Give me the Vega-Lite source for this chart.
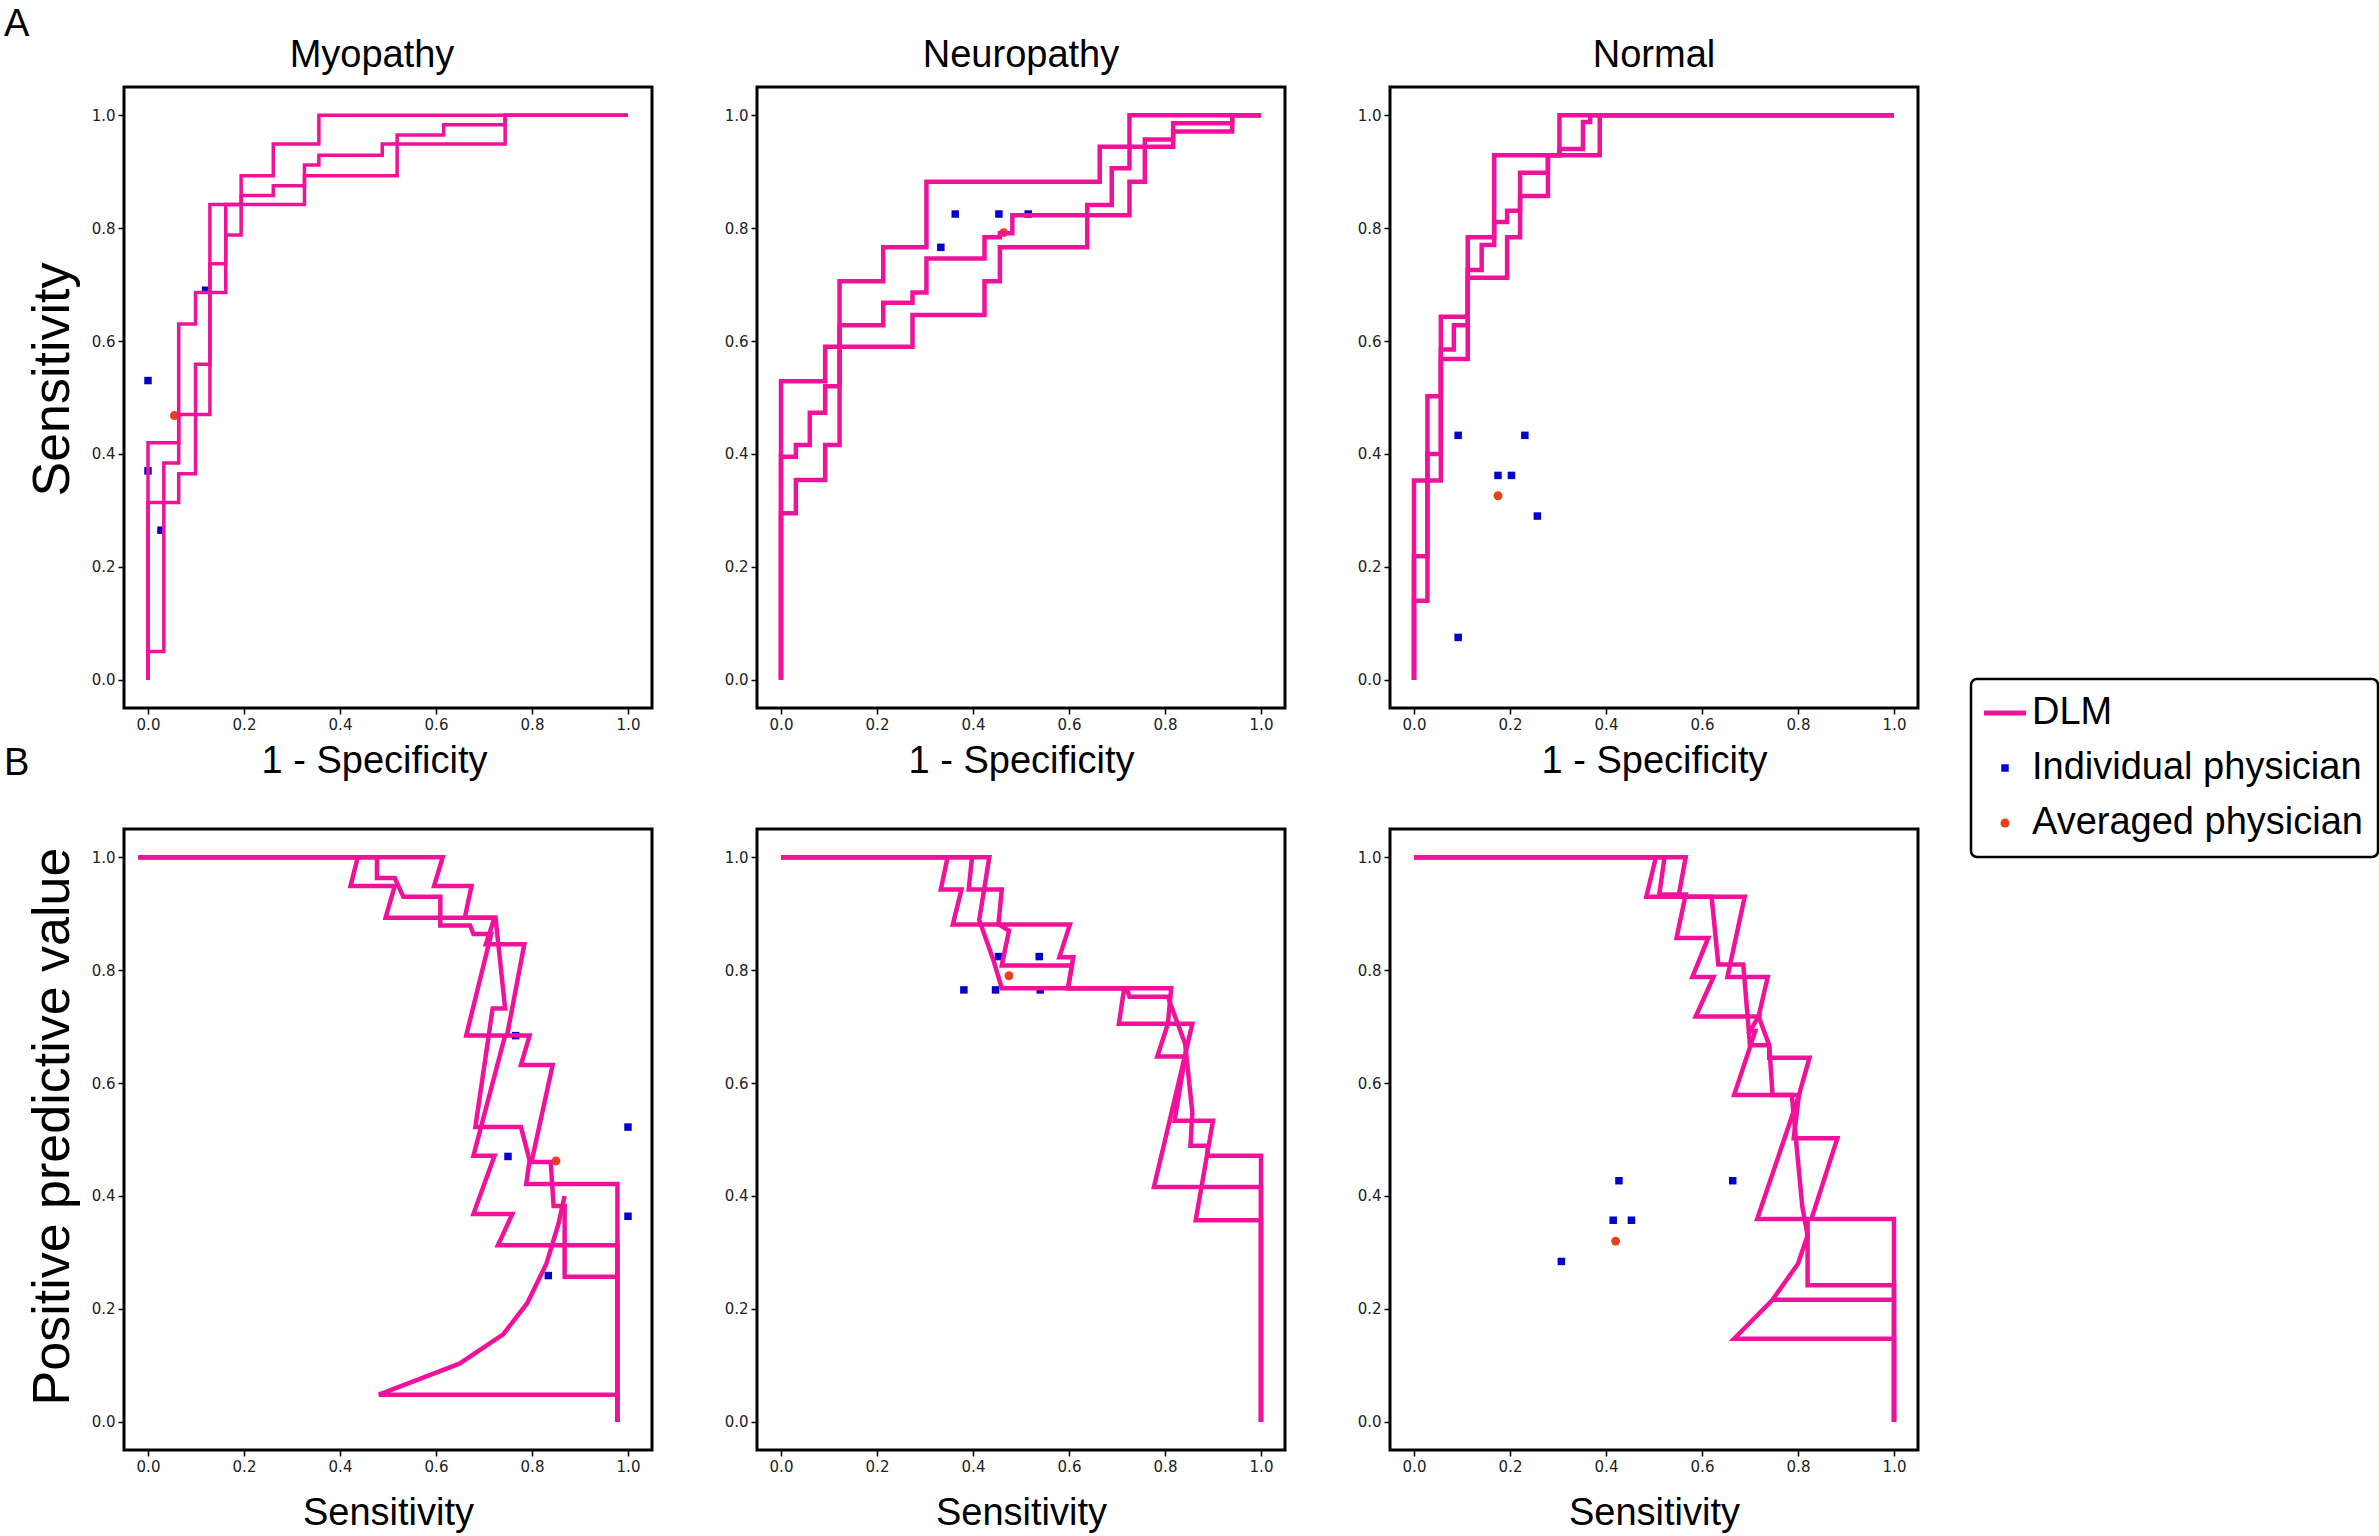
{
"$schema": "https://vega.github.io/schema/vega-lite/v6.json",
"background": "white",
"padding": {"left": 2, "top": 5, "right": 2, "bottom": 2},
"config": {
 "font": "Liberation Sans",
 "view": {"stroke": "black", "strokeWidth": 3},
 "axis": {"grid": false, "domain": false, "ticks": true, "tickColor": "black", "tickSize": 6, "tickWidth": 1.5, "labelFont": "DejaVu Sans", "labelFontSize": 15, "labelColor": "#222222", "labelPadding": 3, "titleFont": "Liberation Sans", "titleFontWeight": "normal", "titleColor": "black"},
 "title": {"font": "Liberation Sans", "fontSize": 38, "fontWeight": "normal", "color": "black"},
 "legend": {"orient": "none", "legendX": 1847, "legendY": 592, "strokeColor": "black", "strokeWidth": 2.5, "cornerRadius": 6, "padding": 15, "labelFontSize": 38, "labelColor": "black", "labelFont": "Liberation Sans", "labelLimit": 0, "rowPadding": 17, "labelOffset": 8, "fillColor": "white"}
},
"datasets": {
"dlm": [
{"p":"AMyo","s":"DLM","c":1,"i":0,"x":0,"y":0},{"p":"AMyo","s":"DLM","c":1,"i":1,"x":0,"y":0.42},{"p":"AMyo","s":"DLM","c":1,"i":2,"x":0.064,"y":0.42},{"p":"AMyo","s":"DLM","c":1,"i":3,"x":0.064,"y":0.63},{"p":"AMyo","s":"DLM","c":1,"i":4,"x":0.099,"y":0.63},{"p":"AMyo","s":"DLM","c":1,"i":5,"x":0.099,"y":0.686},{"p":"AMyo","s":"DLM","c":1,"i":6,"x":0.129,"y":0.686},{"p":"AMyo","s":"DLM","c":1,"i":7,"x":0.129,"y":0.842},{"p":"AMyo","s":"DLM","c":1,"i":8,"x":0.194,"y":0.842},{"p":"AMyo","s":"DLM","c":1,"i":9,"x":0.194,"y":0.893},{"p":"AMyo","s":"DLM","c":1,"i":10,"x":0.261,"y":0.893},{"p":"AMyo","s":"DLM","c":1,"i":11,"x":0.261,"y":0.949},{"p":"AMyo","s":"DLM","c":1,"i":12,"x":0.356,"y":0.949},{"p":"AMyo","s":"DLM","c":1,"i":13,"x":0.356,"y":1},{"p":"AMyo","s":"DLM","c":1,"i":14,"x":1,"y":1},
{"p":"AMyo","s":"DLM","c":2,"i":0,"x":0,"y":0},{"p":"AMyo","s":"DLM","c":2,"i":1,"x":0,"y":0.314},{"p":"AMyo","s":"DLM","c":2,"i":2,"x":0.064,"y":0.314},{"p":"AMyo","s":"DLM","c":2,"i":3,"x":0.064,"y":0.365},{"p":"AMyo","s":"DLM","c":2,"i":4,"x":0.099,"y":0.365},{"p":"AMyo","s":"DLM","c":2,"i":5,"x":0.099,"y":0.559},{"p":"AMyo","s":"DLM","c":2,"i":6,"x":0.129,"y":0.559},{"p":"AMyo","s":"DLM","c":2,"i":7,"x":0.129,"y":0.737},{"p":"AMyo","s":"DLM","c":2,"i":8,"x":0.162,"y":0.737},{"p":"AMyo","s":"DLM","c":2,"i":9,"x":0.162,"y":0.842},{"p":"AMyo","s":"DLM","c":2,"i":10,"x":0.194,"y":0.842},{"p":"AMyo","s":"DLM","c":2,"i":11,"x":0.194,"y":0.858},{"p":"AMyo","s":"DLM","c":2,"i":12,"x":0.261,"y":0.858},{"p":"AMyo","s":"DLM","c":2,"i":13,"x":0.261,"y":0.875},{"p":"AMyo","s":"DLM","c":2,"i":14,"x":0.326,"y":0.875},{"p":"AMyo","s":"DLM","c":2,"i":15,"x":0.326,"y":0.912},{"p":"AMyo","s":"DLM","c":2,"i":16,"x":0.356,"y":0.912},{"p":"AMyo","s":"DLM","c":2,"i":17,"x":0.356,"y":0.929},{"p":"AMyo","s":"DLM","c":2,"i":18,"x":0.488,"y":0.929},{"p":"AMyo","s":"DLM","c":2,"i":19,"x":0.488,"y":0.949},{"p":"AMyo","s":"DLM","c":2,"i":20,"x":0.744,"y":0.949},{"p":"AMyo","s":"DLM","c":2,"i":21,"x":0.744,"y":1},{"p":"AMyo","s":"DLM","c":2,"i":22,"x":1,"y":1},
{"p":"AMyo","s":"DLM","c":3,"i":0,"x":0,"y":0},{"p":"AMyo","s":"DLM","c":3,"i":1,"x":0,"y":0.05},{"p":"AMyo","s":"DLM","c":3,"i":2,"x":0.033,"y":0.05},{"p":"AMyo","s":"DLM","c":3,"i":3,"x":0.033,"y":0.384},{"p":"AMyo","s":"DLM","c":3,"i":4,"x":0.064,"y":0.384},{"p":"AMyo","s":"DLM","c":3,"i":5,"x":0.064,"y":0.47},{"p":"AMyo","s":"DLM","c":3,"i":6,"x":0.129,"y":0.47},{"p":"AMyo","s":"DLM","c":3,"i":7,"x":0.129,"y":0.686},{"p":"AMyo","s":"DLM","c":3,"i":8,"x":0.162,"y":0.686},{"p":"AMyo","s":"DLM","c":3,"i":9,"x":0.162,"y":0.788},{"p":"AMyo","s":"DLM","c":3,"i":10,"x":0.194,"y":0.788},{"p":"AMyo","s":"DLM","c":3,"i":11,"x":0.194,"y":0.842},{"p":"AMyo","s":"DLM","c":3,"i":12,"x":0.326,"y":0.842},{"p":"AMyo","s":"DLM","c":3,"i":13,"x":0.326,"y":0.893},{"p":"AMyo","s":"DLM","c":3,"i":14,"x":0.519,"y":0.893},{"p":"AMyo","s":"DLM","c":3,"i":15,"x":0.519,"y":0.965},{"p":"AMyo","s":"DLM","c":3,"i":16,"x":0.616,"y":0.965},{"p":"AMyo","s":"DLM","c":3,"i":17,"x":0.616,"y":0.983},{"p":"AMyo","s":"DLM","c":3,"i":18,"x":0.744,"y":0.983},{"p":"AMyo","s":"DLM","c":3,"i":19,"x":0.744,"y":1},{"p":"AMyo","s":"DLM","c":3,"i":20,"x":1,"y":1},
{"p":"ANeu","s":"DLM","c":1,"i":0,"x":0,"y":0},{"p":"ANeu","s":"DLM","c":1,"i":1,"x":0,"y":0.529},{"p":"ANeu","s":"DLM","c":1,"i":2,"x":0.092,"y":0.529},{"p":"ANeu","s":"DLM","c":1,"i":3,"x":0.092,"y":0.59},{"p":"ANeu","s":"DLM","c":1,"i":4,"x":0.122,"y":0.59},{"p":"ANeu","s":"DLM","c":1,"i":5,"x":0.122,"y":0.706},{"p":"ANeu","s":"DLM","c":1,"i":6,"x":0.213,"y":0.706},{"p":"ANeu","s":"DLM","c":1,"i":7,"x":0.213,"y":0.766},{"p":"ANeu","s":"DLM","c":1,"i":8,"x":0.303,"y":0.766},{"p":"ANeu","s":"DLM","c":1,"i":9,"x":0.303,"y":0.882},{"p":"ANeu","s":"DLM","c":1,"i":10,"x":0.664,"y":0.882},{"p":"ANeu","s":"DLM","c":1,"i":11,"x":0.664,"y":0.944},{"p":"ANeu","s":"DLM","c":1,"i":12,"x":0.726,"y":0.944},{"p":"ANeu","s":"DLM","c":1,"i":13,"x":0.726,"y":1},{"p":"ANeu","s":"DLM","c":1,"i":14,"x":1,"y":1},
{"p":"ANeu","s":"DLM","c":2,"i":0,"x":0,"y":0},{"p":"ANeu","s":"DLM","c":2,"i":1,"x":0,"y":0.395},{"p":"ANeu","s":"DLM","c":2,"i":2,"x":0.031,"y":0.395},{"p":"ANeu","s":"DLM","c":2,"i":3,"x":0.031,"y":0.416},{"p":"ANeu","s":"DLM","c":2,"i":4,"x":0.06,"y":0.416},{"p":"ANeu","s":"DLM","c":2,"i":5,"x":0.06,"y":0.473},{"p":"ANeu","s":"DLM","c":2,"i":6,"x":0.092,"y":0.473},{"p":"ANeu","s":"DLM","c":2,"i":7,"x":0.092,"y":0.52},{"p":"ANeu","s":"DLM","c":2,"i":8,"x":0.122,"y":0.52},{"p":"ANeu","s":"DLM","c":2,"i":9,"x":0.122,"y":0.628},{"p":"ANeu","s":"DLM","c":2,"i":10,"x":0.213,"y":0.628},{"p":"ANeu","s":"DLM","c":2,"i":11,"x":0.213,"y":0.668},{"p":"ANeu","s":"DLM","c":2,"i":12,"x":0.274,"y":0.668},{"p":"ANeu","s":"DLM","c":2,"i":13,"x":0.274,"y":0.686},{"p":"ANeu","s":"DLM","c":2,"i":14,"x":0.303,"y":0.686},{"p":"ANeu","s":"DLM","c":2,"i":15,"x":0.303,"y":0.746},{"p":"ANeu","s":"DLM","c":2,"i":16,"x":0.424,"y":0.746},{"p":"ANeu","s":"DLM","c":2,"i":17,"x":0.424,"y":0.784},{"p":"ANeu","s":"DLM","c":2,"i":18,"x":0.456,"y":0.784},{"p":"ANeu","s":"DLM","c":2,"i":19,"x":0.456,"y":0.791},{"p":"ANeu","s":"DLM","c":2,"i":20,"x":0.482,"y":0.791},{"p":"ANeu","s":"DLM","c":2,"i":21,"x":0.482,"y":0.823},{"p":"ANeu","s":"DLM","c":2,"i":22,"x":0.726,"y":0.823},{"p":"ANeu","s":"DLM","c":2,"i":23,"x":0.726,"y":0.882},{"p":"ANeu","s":"DLM","c":2,"i":24,"x":0.758,"y":0.882},{"p":"ANeu","s":"DLM","c":2,"i":25,"x":0.758,"y":0.957},{"p":"ANeu","s":"DLM","c":2,"i":26,"x":0.817,"y":0.957},{"p":"ANeu","s":"DLM","c":2,"i":27,"x":0.817,"y":0.986},{"p":"ANeu","s":"DLM","c":2,"i":28,"x":0.94,"y":0.986},{"p":"ANeu","s":"DLM","c":2,"i":29,"x":0.94,"y":1},{"p":"ANeu","s":"DLM","c":2,"i":30,"x":1,"y":1},
{"p":"ANeu","s":"DLM","c":3,"i":0,"x":0,"y":0},{"p":"ANeu","s":"DLM","c":3,"i":1,"x":0,"y":0.295},{"p":"ANeu","s":"DLM","c":3,"i":2,"x":0.031,"y":0.295},{"p":"ANeu","s":"DLM","c":3,"i":3,"x":0.031,"y":0.354},{"p":"ANeu","s":"DLM","c":3,"i":4,"x":0.092,"y":0.354},{"p":"ANeu","s":"DLM","c":3,"i":5,"x":0.092,"y":0.416},{"p":"ANeu","s":"DLM","c":3,"i":6,"x":0.122,"y":0.416},{"p":"ANeu","s":"DLM","c":3,"i":7,"x":0.122,"y":0.59},{"p":"ANeu","s":"DLM","c":3,"i":8,"x":0.274,"y":0.59},{"p":"ANeu","s":"DLM","c":3,"i":9,"x":0.274,"y":0.646},{"p":"ANeu","s":"DLM","c":3,"i":10,"x":0.424,"y":0.646},{"p":"ANeu","s":"DLM","c":3,"i":11,"x":0.424,"y":0.706},{"p":"ANeu","s":"DLM","c":3,"i":12,"x":0.456,"y":0.706},{"p":"ANeu","s":"DLM","c":3,"i":13,"x":0.456,"y":0.766},{"p":"ANeu","s":"DLM","c":3,"i":14,"x":0.638,"y":0.766},{"p":"ANeu","s":"DLM","c":3,"i":15,"x":0.638,"y":0.841},{"p":"ANeu","s":"DLM","c":3,"i":16,"x":0.689,"y":0.841},{"p":"ANeu","s":"DLM","c":3,"i":17,"x":0.689,"y":0.906},{"p":"ANeu","s":"DLM","c":3,"i":18,"x":0.726,"y":0.906},{"p":"ANeu","s":"DLM","c":3,"i":19,"x":0.726,"y":0.944},{"p":"ANeu","s":"DLM","c":3,"i":20,"x":0.817,"y":0.944},{"p":"ANeu","s":"DLM","c":3,"i":21,"x":0.817,"y":0.971},{"p":"ANeu","s":"DLM","c":3,"i":22,"x":0.94,"y":0.971},{"p":"ANeu","s":"DLM","c":3,"i":23,"x":0.94,"y":1},{"p":"ANeu","s":"DLM","c":3,"i":24,"x":1,"y":1},
{"p":"ANor","s":"DLM","c":1,"i":0,"x":0,"y":0},{"p":"ANor","s":"DLM","c":1,"i":1,"x":0,"y":0.353},{"p":"ANor","s":"DLM","c":1,"i":2,"x":0.028,"y":0.353},{"p":"ANor","s":"DLM","c":1,"i":3,"x":0.028,"y":0.502},{"p":"ANor","s":"DLM","c":1,"i":4,"x":0.056,"y":0.502},{"p":"ANor","s":"DLM","c":1,"i":5,"x":0.056,"y":0.643},{"p":"ANor","s":"DLM","c":1,"i":6,"x":0.112,"y":0.643},{"p":"ANor","s":"DLM","c":1,"i":7,"x":0.112,"y":0.784},{"p":"ANor","s":"DLM","c":1,"i":8,"x":0.167,"y":0.784},{"p":"ANor","s":"DLM","c":1,"i":9,"x":0.167,"y":0.929},{"p":"ANor","s":"DLM","c":1,"i":10,"x":0.303,"y":0.929},{"p":"ANor","s":"DLM","c":1,"i":11,"x":0.303,"y":1},{"p":"ANor","s":"DLM","c":1,"i":12,"x":1,"y":1},
{"p":"ANor","s":"DLM","c":2,"i":0,"x":0,"y":0},{"p":"ANor","s":"DLM","c":2,"i":1,"x":0,"y":0.219},{"p":"ANor","s":"DLM","c":2,"i":2,"x":0.028,"y":0.219},{"p":"ANor","s":"DLM","c":2,"i":3,"x":0.028,"y":0.4},{"p":"ANor","s":"DLM","c":2,"i":4,"x":0.056,"y":0.4},{"p":"ANor","s":"DLM","c":2,"i":5,"x":0.056,"y":0.585},{"p":"ANor","s":"DLM","c":2,"i":6,"x":0.083,"y":0.585},{"p":"ANor","s":"DLM","c":2,"i":7,"x":0.083,"y":0.628},{"p":"ANor","s":"DLM","c":2,"i":8,"x":0.112,"y":0.628},{"p":"ANor","s":"DLM","c":2,"i":9,"x":0.112,"y":0.726},{"p":"ANor","s":"DLM","c":2,"i":10,"x":0.141,"y":0.726},{"p":"ANor","s":"DLM","c":2,"i":11,"x":0.141,"y":0.77},{"p":"ANor","s":"DLM","c":2,"i":12,"x":0.167,"y":0.77},{"p":"ANor","s":"DLM","c":2,"i":13,"x":0.167,"y":0.811},{"p":"ANor","s":"DLM","c":2,"i":14,"x":0.194,"y":0.811},{"p":"ANor","s":"DLM","c":2,"i":15,"x":0.194,"y":0.831},{"p":"ANor","s":"DLM","c":2,"i":16,"x":0.221,"y":0.831},{"p":"ANor","s":"DLM","c":2,"i":17,"x":0.221,"y":0.898},{"p":"ANor","s":"DLM","c":2,"i":18,"x":0.279,"y":0.898},{"p":"ANor","s":"DLM","c":2,"i":19,"x":0.279,"y":0.929},{"p":"ANor","s":"DLM","c":2,"i":20,"x":0.303,"y":0.929},{"p":"ANor","s":"DLM","c":2,"i":21,"x":0.303,"y":0.94},{"p":"ANor","s":"DLM","c":2,"i":22,"x":0.352,"y":0.94},{"p":"ANor","s":"DLM","c":2,"i":23,"x":0.352,"y":0.988},{"p":"ANor","s":"DLM","c":2,"i":24,"x":0.367,"y":0.988},{"p":"ANor","s":"DLM","c":2,"i":25,"x":0.367,"y":1},{"p":"ANor","s":"DLM","c":2,"i":26,"x":1,"y":1},
{"p":"ANor","s":"DLM","c":3,"i":0,"x":0,"y":0},{"p":"ANor","s":"DLM","c":3,"i":1,"x":0,"y":0.14},{"p":"ANor","s":"DLM","c":3,"i":2,"x":0.028,"y":0.14},{"p":"ANor","s":"DLM","c":3,"i":3,"x":0.028,"y":0.353},{"p":"ANor","s":"DLM","c":3,"i":4,"x":0.056,"y":0.353},{"p":"ANor","s":"DLM","c":3,"i":5,"x":0.056,"y":0.568},{"p":"ANor","s":"DLM","c":3,"i":6,"x":0.112,"y":0.568},{"p":"ANor","s":"DLM","c":3,"i":7,"x":0.112,"y":0.712},{"p":"ANor","s":"DLM","c":3,"i":8,"x":0.194,"y":0.712},{"p":"ANor","s":"DLM","c":3,"i":9,"x":0.194,"y":0.784},{"p":"ANor","s":"DLM","c":3,"i":10,"x":0.221,"y":0.784},{"p":"ANor","s":"DLM","c":3,"i":11,"x":0.221,"y":0.857},{"p":"ANor","s":"DLM","c":3,"i":12,"x":0.279,"y":0.857},{"p":"ANor","s":"DLM","c":3,"i":13,"x":0.279,"y":0.929},{"p":"ANor","s":"DLM","c":3,"i":14,"x":0.387,"y":0.929},{"p":"ANor","s":"DLM","c":3,"i":15,"x":0.387,"y":1},{"p":"ANor","s":"DLM","c":3,"i":16,"x":1,"y":1},
{"p":"BMyo","s":"DLM","c":1,"i":0,"x":-0.02,"y":1},{"p":"BMyo","s":"DLM","c":1,"i":1,"x":0.437,"y":1},{"p":"BMyo","s":"DLM","c":1,"i":2,"x":0.422,"y":0.949},{"p":"BMyo","s":"DLM","c":1,"i":3,"x":0.514,"y":0.949},{"p":"BMyo","s":"DLM","c":1,"i":4,"x":0.495,"y":0.893},{"p":"BMyo","s":"DLM","c":1,"i":5,"x":0.722,"y":0.893},{"p":"BMyo","s":"DLM","c":1,"i":6,"x":0.704,"y":0.846},{"p":"BMyo","s":"DLM","c":1,"i":7,"x":0.784,"y":0.846},{"p":"BMyo","s":"DLM","c":1,"i":8,"x":0.748,"y":0.684},{"p":"BMyo","s":"DLM","c":1,"i":9,"x":0.795,"y":0.684},{"p":"BMyo","s":"DLM","c":1,"i":10,"x":0.777,"y":0.632},{"p":"BMyo","s":"DLM","c":1,"i":11,"x":0.843,"y":0.632},{"p":"BMyo","s":"DLM","c":1,"i":12,"x":0.799,"y":0.46},{"p":"BMyo","s":"DLM","c":1,"i":13,"x":0.839,"y":0.46},{"p":"BMyo","s":"DLM","c":1,"i":14,"x":0.845,"y":0.382},{"p":"BMyo","s":"DLM","c":1,"i":15,"x":0.868,"y":0.382},{"p":"BMyo","s":"DLM","c":1,"i":16,"x":0.868,"y":0.257},{"p":"BMyo","s":"DLM","c":1,"i":17,"x":0.978,"y":0.257},{"p":"BMyo","s":"DLM","c":1,"i":18,"x":0.978,"y":0},
{"p":"BMyo","s":"DLM","c":2,"i":0,"x":-0.02,"y":1},{"p":"BMyo","s":"DLM","c":2,"i":1,"x":0.477,"y":1},{"p":"BMyo","s":"DLM","c":2,"i":2,"x":0.477,"y":0.963},{"p":"BMyo","s":"DLM","c":2,"i":3,"x":0.514,"y":0.963},{"p":"BMyo","s":"DLM","c":2,"i":4,"x":0.532,"y":0.93},{"p":"BMyo","s":"DLM","c":2,"i":5,"x":0.609,"y":0.93},{"p":"BMyo","s":"DLM","c":2,"i":6,"x":0.609,"y":0.879},{"p":"BMyo","s":"DLM","c":2,"i":7,"x":0.671,"y":0.879},{"p":"BMyo","s":"DLM","c":2,"i":8,"x":0.678,"y":0.864},{"p":"BMyo","s":"DLM","c":2,"i":9,"x":0.715,"y":0.864},{"p":"BMyo","s":"DLM","c":2,"i":10,"x":0.663,"y":0.684},{"p":"BMyo","s":"DLM","c":2,"i":11,"x":0.744,"y":0.684},{"p":"BMyo","s":"DLM","c":2,"i":12,"x":0.678,"y":0.471},{"p":"BMyo","s":"DLM","c":2,"i":13,"x":0.722,"y":0.471},{"p":"BMyo","s":"DLM","c":2,"i":14,"x":0.678,"y":0.368},{"p":"BMyo","s":"DLM","c":2,"i":15,"x":0.759,"y":0.368},{"p":"BMyo","s":"DLM","c":2,"i":16,"x":0.729,"y":0.3125},{"p":"BMyo","s":"DLM","c":2,"i":17,"x":0.978,"y":0.3125},{"p":"BMyo","s":"DLM","c":2,"i":18,"x":0.978,"y":0},
{"p":"BMyo","s":"DLM","c":3,"i":0,"x":-0.02,"y":1},{"p":"BMyo","s":"DLM","c":3,"i":1,"x":0.614,"y":1},{"p":"BMyo","s":"DLM","c":3,"i":2,"x":0.596,"y":0.949},{"p":"BMyo","s":"DLM","c":3,"i":3,"x":0.674,"y":0.949},{"p":"BMyo","s":"DLM","c":3,"i":4,"x":0.66,"y":0.893},{"p":"BMyo","s":"DLM","c":3,"i":5,"x":0.724,"y":0.893},{"p":"BMyo","s":"DLM","c":3,"i":6,"x":0.744,"y":0.732},{"p":"BMyo","s":"DLM","c":3,"i":7,"x":0.718,"y":0.732},{"p":"BMyo","s":"DLM","c":3,"i":8,"x":0.682,"y":0.522},{"p":"BMyo","s":"DLM","c":3,"i":9,"x":0.777,"y":0.522},{"p":"BMyo","s":"DLM","c":3,"i":10,"x":0.795,"y":0.463},{"p":"BMyo","s":"DLM","c":3,"i":11,"x":0.788,"y":0.421},{"p":"BMyo","s":"DLM","c":3,"i":12,"x":0.978,"y":0.421},{"p":"BMyo","s":"DLM","c":3,"i":13,"x":0.978,"y":0},
{"p":"BMyo","s":"DLM","c":4,"i":0,"x":0.868,"y":0.4},{"p":"BMyo","s":"DLM","c":4,"i":1,"x":0.855,"y":0.35},{"p":"BMyo","s":"DLM","c":4,"i":2,"x":0.83,"y":0.28},{"p":"BMyo","s":"DLM","c":4,"i":3,"x":0.79,"y":0.21},{"p":"BMyo","s":"DLM","c":4,"i":4,"x":0.74,"y":0.155},{"p":"BMyo","s":"DLM","c":4,"i":5,"x":0.649,"y":0.103},{"p":"BMyo","s":"DLM","c":4,"i":6,"x":0.481,"y":0.048},{"p":"BMyo","s":"DLM","c":4,"i":7,"x":0.978,"y":0.048},
{"p":"BNeu","s":"DLM","c":1,"i":0,"x":0,"y":1},{"p":"BNeu","s":"DLM","c":1,"i":1,"x":0.347,"y":1},{"p":"BNeu","s":"DLM","c":1,"i":2,"x":0.333,"y":0.943},{"p":"BNeu","s":"DLM","c":1,"i":3,"x":0.376,"y":0.943},{"p":"BNeu","s":"DLM","c":1,"i":4,"x":0.358,"y":0.881},{"p":"BNeu","s":"DLM","c":1,"i":5,"x":0.602,"y":0.881},{"p":"BNeu","s":"DLM","c":1,"i":6,"x":0.58,"y":0.823},{"p":"BNeu","s":"DLM","c":1,"i":7,"x":0.609,"y":0.823},{"p":"BNeu","s":"DLM","c":1,"i":8,"x":0.598,"y":0.768},{"p":"BNeu","s":"DLM","c":1,"i":9,"x":0.813,"y":0.768},{"p":"BNeu","s":"DLM","c":1,"i":10,"x":0.806,"y":0.705},{"p":"BNeu","s":"DLM","c":1,"i":11,"x":0.784,"y":0.647},{"p":"BNeu","s":"DLM","c":1,"i":12,"x":0.842,"y":0.647},{"p":"BNeu","s":"DLM","c":1,"i":13,"x":0.82,"y":0.533},{"p":"BNeu","s":"DLM","c":1,"i":14,"x":0.9,"y":0.533},{"p":"BNeu","s":"DLM","c":1,"i":15,"x":0.864,"y":0.357},{"p":"BNeu","s":"DLM","c":1,"i":16,"x":1,"y":0.357},{"p":"BNeu","s":"DLM","c":1,"i":17,"x":1,"y":0},
{"p":"BNeu","s":"DLM","c":2,"i":0,"x":0,"y":1},{"p":"BNeu","s":"DLM","c":2,"i":1,"x":0.398,"y":1},{"p":"BNeu","s":"DLM","c":2,"i":2,"x":0.391,"y":0.943},{"p":"BNeu","s":"DLM","c":2,"i":3,"x":0.46,"y":0.943},{"p":"BNeu","s":"DLM","c":2,"i":4,"x":0.453,"y":0.881},{"p":"BNeu","s":"DLM","c":2,"i":5,"x":0.475,"y":0.87},{"p":"BNeu","s":"DLM","c":2,"i":6,"x":0.46,"y":0.808},{"p":"BNeu","s":"DLM","c":2,"i":7,"x":0.606,"y":0.808},{"p":"BNeu","s":"DLM","c":2,"i":8,"x":0.598,"y":0.768},{"p":"BNeu","s":"DLM","c":2,"i":9,"x":0.715,"y":0.768},{"p":"BNeu","s":"DLM","c":2,"i":10,"x":0.704,"y":0.705},{"p":"BNeu","s":"DLM","c":2,"i":11,"x":0.857,"y":0.705},{"p":"BNeu","s":"DLM","c":2,"i":12,"x":0.828,"y":0.599},{"p":"BNeu","s":"DLM","c":2,"i":13,"x":0.777,"y":0.416},{"p":"BNeu","s":"DLM","c":2,"i":14,"x":1,"y":0.416},{"p":"BNeu","s":"DLM","c":2,"i":15,"x":1,"y":0},
{"p":"BNeu","s":"DLM","c":3,"i":0,"x":0,"y":1},{"p":"BNeu","s":"DLM","c":3,"i":1,"x":0.434,"y":1},{"p":"BNeu","s":"DLM","c":3,"i":2,"x":0.413,"y":0.889},{"p":"BNeu","s":"DLM","c":3,"i":3,"x":0.442,"y":0.819},{"p":"BNeu","s":"DLM","c":3,"i":4,"x":0.46,"y":0.768},{"p":"BNeu","s":"DLM","c":3,"i":5,"x":0.72,"y":0.768},{"p":"BNeu","s":"DLM","c":3,"i":6,"x":0.726,"y":0.753},{"p":"BNeu","s":"DLM","c":3,"i":7,"x":0.806,"y":0.753},{"p":"BNeu","s":"DLM","c":3,"i":8,"x":0.842,"y":0.669},{"p":"BNeu","s":"DLM","c":3,"i":9,"x":0.857,"y":0.548},{"p":"BNeu","s":"DLM","c":3,"i":10,"x":0.853,"y":0.489},{"p":"BNeu","s":"DLM","c":3,"i":11,"x":0.889,"y":0.489},{"p":"BNeu","s":"DLM","c":3,"i":12,"x":0.889,"y":0.471},{"p":"BNeu","s":"DLM","c":3,"i":13,"x":1,"y":0.471},{"p":"BNeu","s":"DLM","c":3,"i":14,"x":1,"y":0},
{"p":"BNor","s":"DLM","c":1,"i":0,"x":0,"y":1},{"p":"BNor","s":"DLM","c":1,"i":1,"x":0.504,"y":1},{"p":"BNor","s":"DLM","c":1,"i":2,"x":0.484,"y":0.93},{"p":"BNor","s":"DLM","c":1,"i":3,"x":0.689,"y":0.93},{"p":"BNor","s":"DLM","c":1,"i":4,"x":0.653,"y":0.788},{"p":"BNor","s":"DLM","c":1,"i":5,"x":0.737,"y":0.788},{"p":"BNor","s":"DLM","c":1,"i":6,"x":0.718,"y":0.718},{"p":"BNor","s":"DLM","c":1,"i":7,"x":0.74,"y":0.667},{"p":"BNor","s":"DLM","c":1,"i":8,"x":0.74,"y":0.645},{"p":"BNor","s":"DLM","c":1,"i":9,"x":0.824,"y":0.645},{"p":"BNor","s":"DLM","c":1,"i":10,"x":0.802,"y":0.579},{"p":"BNor","s":"DLM","c":1,"i":11,"x":0.791,"y":0.502},{"p":"BNor","s":"DLM","c":1,"i":12,"x":0.882,"y":0.502},{"p":"BNor","s":"DLM","c":1,"i":13,"x":0.828,"y":0.359},{"p":"BNor","s":"DLM","c":1,"i":14,"x":1,"y":0.359},{"p":"BNor","s":"DLM","c":1,"i":15,"x":1,"y":0},
{"p":"BNor","s":"DLM","c":2,"i":0,"x":0,"y":1},{"p":"BNor","s":"DLM","c":2,"i":1,"x":0.522,"y":1},{"p":"BNor","s":"DLM","c":2,"i":2,"x":0.511,"y":0.934},{"p":"BNor","s":"DLM","c":2,"i":3,"x":0.566,"y":0.934},{"p":"BNor","s":"DLM","c":2,"i":4,"x":0.547,"y":0.857},{"p":"BNor","s":"DLM","c":2,"i":5,"x":0.613,"y":0.857},{"p":"BNor","s":"DLM","c":2,"i":6,"x":0.58,"y":0.788},{"p":"BNor","s":"DLM","c":2,"i":7,"x":0.624,"y":0.788},{"p":"BNor","s":"DLM","c":2,"i":8,"x":0.587,"y":0.718},{"p":"BNor","s":"DLM","c":2,"i":9,"x":0.718,"y":0.718},{"p":"BNor","s":"DLM","c":2,"i":10,"x":0.7,"y":0.692},{"p":"BNor","s":"DLM","c":2,"i":11,"x":0.711,"y":0.692},{"p":"BNor","s":"DLM","c":2,"i":12,"x":0.667,"y":0.579},{"p":"BNor","s":"DLM","c":2,"i":13,"x":0.802,"y":0.579},{"p":"BNor","s":"DLM","c":2,"i":14,"x":0.791,"y":0.55},{"p":"BNor","s":"DLM","c":2,"i":15,"x":0.715,"y":0.359},{"p":"BNor","s":"DLM","c":2,"i":16,"x":0.82,"y":0.359},{"p":"BNor","s":"DLM","c":2,"i":17,"x":0.82,"y":0.242},{"p":"BNor","s":"DLM","c":2,"i":18,"x":1,"y":0.242},{"p":"BNor","s":"DLM","c":2,"i":19,"x":1,"y":0},
{"p":"BNor","s":"DLM","c":3,"i":0,"x":0,"y":1},{"p":"BNor","s":"DLM","c":3,"i":1,"x":0.566,"y":1},{"p":"BNor","s":"DLM","c":3,"i":2,"x":0.551,"y":0.93},{"p":"BNor","s":"DLM","c":3,"i":3,"x":0.62,"y":0.93},{"p":"BNor","s":"DLM","c":3,"i":4,"x":0.634,"y":0.81},{"p":"BNor","s":"DLM","c":3,"i":5,"x":0.686,"y":0.81},{"p":"BNor","s":"DLM","c":3,"i":6,"x":0.7,"y":0.667},{"p":"BNor","s":"DLM","c":3,"i":7,"x":0.74,"y":0.667},{"p":"BNor","s":"DLM","c":3,"i":8,"x":0.747,"y":0.579},{"p":"BNor","s":"DLM","c":3,"i":9,"x":0.787,"y":0.579},{"p":"BNor","s":"DLM","c":3,"i":10,"x":0.809,"y":0.381},{"p":"BNor","s":"DLM","c":3,"i":11,"x":0.82,"y":0.33},{"p":"BNor","s":"DLM","c":3,"i":12,"x":0.8,"y":0.28},{"p":"BNor","s":"DLM","c":3,"i":13,"x":0.747,"y":0.216},{"p":"BNor","s":"DLM","c":3,"i":14,"x":0.667,"y":0.147},{"p":"BNor","s":"DLM","c":3,"i":15,"x":1,"y":0.147},{"p":"BNor","s":"DLM","c":3,"i":16,"x":1,"y":0},
{"p":"BNor","s":"DLM","c":4,"i":0,"x":0.747,"y":0.216},{"p":"BNor","s":"DLM","c":4,"i":1,"x":1,"y":0.216}
],
"phys": [
{"p":"AMyo","s":"Individual physician","x":0,"y":0.53},{"p":"AMyo","s":"Individual physician","x":0,"y":0.37},{"p":"AMyo","s":"Individual physician","x":0.12,"y":0.69},{"p":"AMyo","s":"Individual physician","x":0.027,"y":0.265},{"p":"AMyo","s":"Averaged physician","x":0.055,"y":0.468},
{"p":"ANeu","s":"Individual physician","x":0.363,"y":0.825},{"p":"ANeu","s":"Individual physician","x":0.454,"y":0.825},{"p":"ANeu","s":"Individual physician","x":0.333,"y":0.766},{"p":"ANeu","s":"Individual physician","x":0.515,"y":0.825},{"p":"ANeu","s":"Averaged physician","x":0.464,"y":0.792},
{"p":"ANor","s":"Individual physician","x":0.092,"y":0.433},{"p":"ANor","s":"Individual physician","x":0.231,"y":0.433},{"p":"ANor","s":"Individual physician","x":0.175,"y":0.362},{"p":"ANor","s":"Individual physician","x":0.203,"y":0.362},{"p":"ANor","s":"Individual physician","x":0.257,"y":0.29},{"p":"ANor","s":"Individual physician","x":0.092,"y":0.075},{"p":"ANor","s":"Averaged physician","x":0.175,"y":0.326},
{"p":"BMyo","s":"Individual physician","x":1,"y":0.522},{"p":"BMyo","s":"Individual physician","x":1,"y":0.364},{"p":"BMyo","s":"Individual physician","x":0.75,"y":0.47},{"p":"BMyo","s":"Individual physician","x":0.834,"y":0.259},{"p":"BMyo","s":"Individual physician","x":0.766,"y":0.684},{"p":"BMyo","s":"Averaged physician","x":0.85,"y":0.462},
{"p":"BNeu","s":"Individual physician","x":0.453,"y":0.824},{"p":"BNeu","s":"Individual physician","x":0.538,"y":0.824},{"p":"BNeu","s":"Individual physician","x":0.381,"y":0.765},{"p":"BNeu","s":"Individual physician","x":0.447,"y":0.765},{"p":"BNeu","s":"Individual physician","x":0.54,"y":0.765},{"p":"BNeu","s":"Averaged physician","x":0.475,"y":0.79},
{"p":"BNor","s":"Individual physician","x":0.427,"y":0.427},{"p":"BNor","s":"Individual physician","x":0.664,"y":0.427},{"p":"BNor","s":"Individual physician","x":0.415,"y":0.357},{"p":"BNor","s":"Individual physician","x":0.453,"y":0.357},{"p":"BNor","s":"Individual physician","x":0.307,"y":0.284},{"p":"BNor","s":"Averaged physician","x":0.42,"y":0.32}
]
},
"title": {"text": "A", "anchor": "start", "frame": "group", "dx": -120, "fontSize": 38, "offset": -8},
"columns": 3,
"spacing": {"row": 121, "column": 105},
"bounds": "flush",
"concat": [
 {"width": 528, "height": 621, "title": {"text": "Myopathy", "fontSize": 38, "offset": -18, "dx": -16, "baseline": "alphabetic"},
  "encoding": {"x": {"field": "x", "type": "quantitative", "scale": {"domain": [-0.05, 1.05], "nice": false, "zero": false}, "axis": {"title": "1 - Specificity", "values": [0, 0.2, 0.4, 0.6, 0.8, 1], "format": ".1f", "titleFontSize": 38, "titlePadding": 10, "titleX": 250}},
   "y": {"field": "y", "type": "quantitative", "scale": {"domain": [-0.05, 1.05], "nice": false, "zero": false}, "axis": {"title": "Sensitivity", "values": [0, 0.2, 0.4, 0.6, 0.8, 1], "format": ".1f", "titleFontSize": 52, "titlePadding": 12, "titleY": 292}}},
  "layer": [
   {"data": {"name": "phys"}, "transform": [{"filter": "datum.p === 'AMyo'"}], "mark": {"type": "point", "filled": true, "opacity": 1},
    "encoding": {"color": {"field": "s", "type": "nominal", "scale": {"domain": ["DLM", "Individual physician", "Averaged physician"], "range": ["#F0129A", "#0000CC", "#E8401A"]}, "legend": {"title": null, "encode": {"symbols": {"update": {"stroke": {"scale": "color", "field": "value"}, "strokeWidth": {"signal": "datum.value === 'DLM' ? 5 : 0"}}}}}},
     "shape": {"field": "s", "type": "nominal", "scale": {"domain": ["DLM", "Individual physician", "Averaged physician"], "range": ["stroke", "square", "circle"]}, "legend": {"title": null, "encode": {"symbols": {"update": {"stroke": {"scale": "color", "field": "value"}, "strokeWidth": {"signal": "datum.value === 'DLM' ? 5 : 0"}}}}}},
     "size": {"field": "s", "type": "nominal", "scale": {"type": "ordinal", "domain": ["DLM", "Individual physician", "Averaged physician"], "range": [1764, 56, 80]}, "legend": {"title": null, "encode": {"symbols": {"update": {"stroke": {"scale": "color", "field": "value"}, "strokeWidth": {"signal": "datum.value === 'DLM' ? 5 : 0"}}}}}}}},
   {"data": {"name": "dlm"}, "transform": [{"filter": "datum.p === 'AMyo'"}], "mark": {"type": "line", "strokeWidth": 3.5},
    "encoding": {"color": {"field": "s", "type": "nominal", "scale": {"domain": ["DLM", "Individual physician", "Averaged physician"], "range": ["#F0129A", "#0000CC", "#E8401A"]}, "legend": {"title": null, "encode": {"symbols": {"update": {"stroke": {"scale": "color", "field": "value"}, "strokeWidth": {"signal": "datum.value === 'DLM' ? 5 : 0"}}}}}}, "detail": {"field": "c"}, "order": {"field": "i"}}}
  ]},
 {"width": 528, "height": 621, "title": {"text": "Neuropathy", "fontSize": 38, "offset": -18, "baseline": "alphabetic"},
  "encoding": {"x": {"field": "x", "type": "quantitative", "scale": {"domain": [-0.05, 1.05], "nice": false, "zero": false}, "axis": {"title": "1 - Specificity", "values": [0, 0.2, 0.4, 0.6, 0.8, 1], "format": ".1f", "titleFontSize": 38, "titlePadding": 10}},
   "y": {"field": "y", "type": "quantitative", "scale": {"domain": [-0.05, 1.05], "nice": false, "zero": false}, "axis": {"title": null, "values": [0, 0.2, 0.4, 0.6, 0.8, 1], "format": ".1f"}}},
  "layer": [
   {"data": {"name": "phys"}, "transform": [{"filter": "datum.p === 'ANeu'"}], "mark": {"type": "point", "filled": true, "opacity": 1},
    "encoding": {"color": {"field": "s", "type": "nominal", "scale": {"domain": ["DLM", "Individual physician", "Averaged physician"], "range": ["#F0129A", "#0000CC", "#E8401A"]}, "legend": {"title": null, "encode": {"symbols": {"update": {"stroke": {"scale": "color", "field": "value"}, "strokeWidth": {"signal": "datum.value === 'DLM' ? 5 : 0"}}}}}},
     "shape": {"field": "s", "type": "nominal", "scale": {"domain": ["DLM", "Individual physician", "Averaged physician"], "range": ["stroke", "square", "circle"]}, "legend": {"title": null, "encode": {"symbols": {"update": {"stroke": {"scale": "color", "field": "value"}, "strokeWidth": {"signal": "datum.value === 'DLM' ? 5 : 0"}}}}}},
     "size": {"field": "s", "type": "nominal", "scale": {"type": "ordinal", "domain": ["DLM", "Individual physician", "Averaged physician"], "range": [1764, 56, 80]}, "legend": {"title": null, "encode": {"symbols": {"update": {"stroke": {"scale": "color", "field": "value"}, "strokeWidth": {"signal": "datum.value === 'DLM' ? 5 : 0"}}}}}}}},
   {"data": {"name": "dlm"}, "transform": [{"filter": "datum.p === 'ANeu'"}], "mark": {"type": "line", "strokeWidth": 4.5},
    "encoding": {"color": {"field": "s", "type": "nominal", "scale": {"domain": ["DLM", "Individual physician", "Averaged physician"], "range": ["#F0129A", "#0000CC", "#E8401A"]}, "legend": {"title": null, "encode": {"symbols": {"update": {"stroke": {"scale": "color", "field": "value"}, "strokeWidth": {"signal": "datum.value === 'DLM' ? 5 : 0"}}}}}}, "detail": {"field": "c"}, "order": {"field": "i"}}}
  ]},
 {"width": 528, "height": 621, "title": {"text": "Normal", "fontSize": 38, "offset": -18, "baseline": "alphabetic"},
  "encoding": {"x": {"field": "x", "type": "quantitative", "scale": {"domain": [-0.05, 1.05], "nice": false, "zero": false}, "axis": {"title": "1 - Specificity", "values": [0, 0.2, 0.4, 0.6, 0.8, 1], "format": ".1f", "titleFontSize": 38, "titlePadding": 10}},
   "y": {"field": "y", "type": "quantitative", "scale": {"domain": [-0.05, 1.05], "nice": false, "zero": false}, "axis": {"title": null, "values": [0, 0.2, 0.4, 0.6, 0.8, 1], "format": ".1f"}}},
  "layer": [
   {"data": {"name": "phys"}, "transform": [{"filter": "datum.p === 'ANor'"}], "mark": {"type": "point", "filled": true, "opacity": 1},
    "encoding": {"color": {"field": "s", "type": "nominal", "scale": {"domain": ["DLM", "Individual physician", "Averaged physician"], "range": ["#F0129A", "#0000CC", "#E8401A"]}, "legend": {"title": null, "encode": {"symbols": {"update": {"stroke": {"scale": "color", "field": "value"}, "strokeWidth": {"signal": "datum.value === 'DLM' ? 5 : 0"}}}}}},
     "shape": {"field": "s", "type": "nominal", "scale": {"domain": ["DLM", "Individual physician", "Averaged physician"], "range": ["stroke", "square", "circle"]}, "legend": {"title": null, "encode": {"symbols": {"update": {"stroke": {"scale": "color", "field": "value"}, "strokeWidth": {"signal": "datum.value === 'DLM' ? 5 : 0"}}}}}},
     "size": {"field": "s", "type": "nominal", "scale": {"type": "ordinal", "domain": ["DLM", "Individual physician", "Averaged physician"], "range": [1764, 56, 80]}, "legend": {"title": null, "encode": {"symbols": {"update": {"stroke": {"scale": "color", "field": "value"}, "strokeWidth": {"signal": "datum.value === 'DLM' ? 5 : 0"}}}}}}}},
   {"data": {"name": "dlm"}, "transform": [{"filter": "datum.p === 'ANor'"}], "mark": {"type": "line", "strokeWidth": 4.5},
    "encoding": {"color": {"field": "s", "type": "nominal", "scale": {"domain": ["DLM", "Individual physician", "Averaged physician"], "range": ["#F0129A", "#0000CC", "#E8401A"]}, "legend": {"title": null, "encode": {"symbols": {"update": {"stroke": {"scale": "color", "field": "value"}, "strokeWidth": {"signal": "datum.value === 'DLM' ? 5 : 0"}}}}}}, "detail": {"field": "c"}, "order": {"field": "i"}}}
  ]},
 {"width": 528, "height": 621, "title": {"text": "B", "anchor": "start", "frame": "group", "dx": -120, "fontSize": 38, "offset": 16, "baseline": "alphabetic"},
  "encoding": {"x": {"field": "x", "type": "quantitative", "scale": {"domain": [-0.05, 1.05], "nice": false, "zero": false}, "axis": {"title": "Sensitivity", "values": [0, 0.2, 0.4, 0.6, 0.8, 1], "format": ".1f", "titleFontSize": 38, "titlePadding": 20}},
   "y": {"field": "y", "type": "quantitative", "scale": {"domain": [-0.05, 1.05], "nice": false, "zero": false}, "axis": {"title": "Positive predictive value", "values": [0, 0.2, 0.4, 0.6, 0.8, 1], "format": ".1f", "titleFontSize": 52, "titlePadding": 12, "titleY": 297}}},
  "layer": [
   {"data": {"name": "phys"}, "transform": [{"filter": "datum.p === 'BMyo'"}], "mark": {"type": "point", "filled": true, "opacity": 1},
    "encoding": {"color": {"field": "s", "type": "nominal", "scale": {"domain": ["DLM", "Individual physician", "Averaged physician"], "range": ["#F0129A", "#0000CC", "#E8401A"]}, "legend": {"title": null, "encode": {"symbols": {"update": {"stroke": {"scale": "color", "field": "value"}, "strokeWidth": {"signal": "datum.value === 'DLM' ? 5 : 0"}}}}}},
     "shape": {"field": "s", "type": "nominal", "scale": {"domain": ["DLM", "Individual physician", "Averaged physician"], "range": ["stroke", "square", "circle"]}, "legend": {"title": null, "encode": {"symbols": {"update": {"stroke": {"scale": "color", "field": "value"}, "strokeWidth": {"signal": "datum.value === 'DLM' ? 5 : 0"}}}}}},
     "size": {"field": "s", "type": "nominal", "scale": {"type": "ordinal", "domain": ["DLM", "Individual physician", "Averaged physician"], "range": [1764, 56, 80]}, "legend": {"title": null, "encode": {"symbols": {"update": {"stroke": {"scale": "color", "field": "value"}, "strokeWidth": {"signal": "datum.value === 'DLM' ? 5 : 0"}}}}}}}},
   {"data": {"name": "dlm"}, "transform": [{"filter": "datum.p === 'BMyo'"}], "mark": {"type": "line", "strokeWidth": 4.5},
    "encoding": {"color": {"field": "s", "type": "nominal", "scale": {"domain": ["DLM", "Individual physician", "Averaged physician"], "range": ["#F0129A", "#0000CC", "#E8401A"]}, "legend": {"title": null, "encode": {"symbols": {"update": {"stroke": {"scale": "color", "field": "value"}, "strokeWidth": {"signal": "datum.value === 'DLM' ? 5 : 0"}}}}}}, "detail": {"field": "c"}, "order": {"field": "i"}}}
  ]},
 {"width": 528, "height": 621,
  "encoding": {"x": {"field": "x", "type": "quantitative", "scale": {"domain": [-0.05, 1.05], "nice": false, "zero": false}, "axis": {"title": "Sensitivity", "values": [0, 0.2, 0.4, 0.6, 0.8, 1], "format": ".1f", "titleFontSize": 38, "titlePadding": 20}},
   "y": {"field": "y", "type": "quantitative", "scale": {"domain": [-0.05, 1.05], "nice": false, "zero": false}, "axis": {"title": null, "values": [0, 0.2, 0.4, 0.6, 0.8, 1], "format": ".1f"}}},
  "layer": [
   {"data": {"name": "phys"}, "transform": [{"filter": "datum.p === 'BNeu'"}], "mark": {"type": "point", "filled": true, "opacity": 1},
    "encoding": {"color": {"field": "s", "type": "nominal", "scale": {"domain": ["DLM", "Individual physician", "Averaged physician"], "range": ["#F0129A", "#0000CC", "#E8401A"]}, "legend": {"title": null, "encode": {"symbols": {"update": {"stroke": {"scale": "color", "field": "value"}, "strokeWidth": {"signal": "datum.value === 'DLM' ? 5 : 0"}}}}}},
     "shape": {"field": "s", "type": "nominal", "scale": {"domain": ["DLM", "Individual physician", "Averaged physician"], "range": ["stroke", "square", "circle"]}, "legend": {"title": null, "encode": {"symbols": {"update": {"stroke": {"scale": "color", "field": "value"}, "strokeWidth": {"signal": "datum.value === 'DLM' ? 5 : 0"}}}}}},
     "size": {"field": "s", "type": "nominal", "scale": {"type": "ordinal", "domain": ["DLM", "Individual physician", "Averaged physician"], "range": [1764, 56, 80]}, "legend": {"title": null, "encode": {"symbols": {"update": {"stroke": {"scale": "color", "field": "value"}, "strokeWidth": {"signal": "datum.value === 'DLM' ? 5 : 0"}}}}}}}},
   {"data": {"name": "dlm"}, "transform": [{"filter": "datum.p === 'BNeu'"}], "mark": {"type": "line", "strokeWidth": 4.5},
    "encoding": {"color": {"field": "s", "type": "nominal", "scale": {"domain": ["DLM", "Individual physician", "Averaged physician"], "range": ["#F0129A", "#0000CC", "#E8401A"]}, "legend": {"title": null, "encode": {"symbols": {"update": {"stroke": {"scale": "color", "field": "value"}, "strokeWidth": {"signal": "datum.value === 'DLM' ? 5 : 0"}}}}}}, "detail": {"field": "c"}, "order": {"field": "i"}}}
  ]},
 {"width": 528, "height": 621,
  "encoding": {"x": {"field": "x", "type": "quantitative", "scale": {"domain": [-0.05, 1.05], "nice": false, "zero": false}, "axis": {"title": "Sensitivity", "values": [0, 0.2, 0.4, 0.6, 0.8, 1], "format": ".1f", "titleFontSize": 38, "titlePadding": 20}},
   "y": {"field": "y", "type": "quantitative", "scale": {"domain": [-0.05, 1.05], "nice": false, "zero": false}, "axis": {"title": null, "values": [0, 0.2, 0.4, 0.6, 0.8, 1], "format": ".1f"}}},
  "layer": [
   {"data": {"name": "phys"}, "transform": [{"filter": "datum.p === 'BNor'"}], "mark": {"type": "point", "filled": true, "opacity": 1},
    "encoding": {"color": {"field": "s", "type": "nominal", "scale": {"domain": ["DLM", "Individual physician", "Averaged physician"], "range": ["#F0129A", "#0000CC", "#E8401A"]}, "legend": {"title": null, "encode": {"symbols": {"update": {"stroke": {"scale": "color", "field": "value"}, "strokeWidth": {"signal": "datum.value === 'DLM' ? 5 : 0"}}}}}},
     "shape": {"field": "s", "type": "nominal", "scale": {"domain": ["DLM", "Individual physician", "Averaged physician"], "range": ["stroke", "square", "circle"]}, "legend": {"title": null, "encode": {"symbols": {"update": {"stroke": {"scale": "color", "field": "value"}, "strokeWidth": {"signal": "datum.value === 'DLM' ? 5 : 0"}}}}}},
     "size": {"field": "s", "type": "nominal", "scale": {"type": "ordinal", "domain": ["DLM", "Individual physician", "Averaged physician"], "range": [1764, 56, 80]}, "legend": {"title": null, "encode": {"symbols": {"update": {"stroke": {"scale": "color", "field": "value"}, "strokeWidth": {"signal": "datum.value === 'DLM' ? 5 : 0"}}}}}}}},
   {"data": {"name": "dlm"}, "transform": [{"filter": "datum.p === 'BNor'"}], "mark": {"type": "line", "strokeWidth": 4.5},
    "encoding": {"color": {"field": "s", "type": "nominal", "scale": {"domain": ["DLM", "Individual physician", "Averaged physician"], "range": ["#F0129A", "#0000CC", "#E8401A"]}, "legend": {"title": null, "encode": {"symbols": {"update": {"stroke": {"scale": "color", "field": "value"}, "strokeWidth": {"signal": "datum.value === 'DLM' ? 5 : 0"}}}}}}, "detail": {"field": "c"}, "order": {"field": "i"}}}
  ]}
]
}
